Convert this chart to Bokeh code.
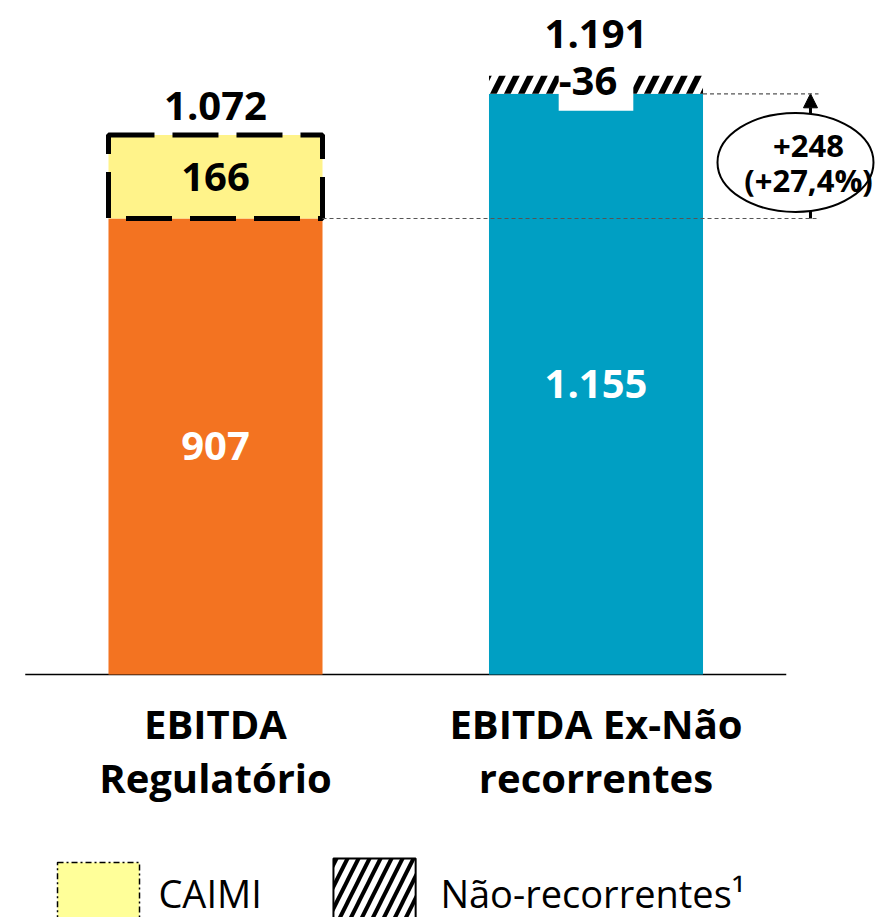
from bokeh.plotting import figure
from bokeh.models import Range1d, Arrow, NormalHead
from bokeh.core.properties import value
from bokeh.embed import file_html
from bokeh.resources import INLINE

# ---------------- data ----------------
categories = ["EBITDA\nRegulatório", "EBITDA Ex-Não\nrecorrentes"]
x_pos = [1, 2]
base_values = [907, 1155]          # orange / blue bars
caimi_value = 166                  # stacked on left bar
nonrec_value = 36                  # hatched, shown as -36 on right bar
totals = [1072, 1191]
delta_abs = 248
delta_pct = "+27,4%"
legend_labels = ["CAIMI", "Não-recorrentes¹"]


def fmt(v):
    return f"{v:,}".replace(",", ".")


# ---------------- style ----------------
ORANGE = "#F37321"
BLUE = "#009FC3"
YELLOW = "#FFF38A"
LEG_YELLOW = "#FFFF99"
FONT = value("Open Sans")
W = 0.5625

PX_X = 380.5       # pixels per x unit
PX_Y = 0.50276     # pixels per y unit
WIDTH, HEIGHT = 875, 917
x_start = 1 - 215 / PX_X
y_start = -(HEIGHT - 674) / PX_Y

p = figure(width=WIDTH, height=HEIGHT,
           x_range=Range1d(x_start, x_start + WIDTH / PX_X),
           y_range=Range1d(y_start, y_start + HEIGHT / PX_Y),
           x_axis_type=None, y_axis_type=None,
           output_backend="svg", toolbar_location=None, min_border=0)
p.grid.visible = False
p.outline_line_color = None
p.background_fill_color = "white"

# baseline
p.segment(x0=[x_pos[0] - 0.5], x1=[x_pos[-1] + 0.5], y0=[0], y1=[0],
          line_color="black", line_width=1.5)

# bars
p.vbar(x=[x_pos[0]], bottom=[0], top=[base_values[0]], width=W,
       fill_color=ORANGE, line_color=None)
p.vbar(x=[x_pos[1]], bottom=[0], top=[base_values[1]], width=W,
       fill_color=BLUE, line_color=None)
p.vbar(x=[x_pos[1]], bottom=[base_values[1]], top=[base_values[1] + nonrec_value],
       width=W, fill_color="white", line_color=None,
       hatch_pattern="/", hatch_color="black", hatch_weight=6, hatch_scale=28)
p.vbar(x=[x_pos[0]], bottom=[base_values[0]], top=[base_values[0] + caimi_value],
       width=W, fill_color=YELLOW, line_color="black", line_width=5,
       line_dash="46 18")

# reference dashed lines + arrow + ellipse
ANN_X = 2.5637
DASH_END = 2.5848
right_edges = [x_pos[0] + W / 2, x_pos[1] + W / 2]
p.segment(x0=right_edges, x1=[DASH_END, DASH_END],
          y0=[base_values[0], base_values[1]], y1=[base_values[0], base_values[1]],
          line_color="#555555", line_width=1.2, line_dash="4 3")

arrow = Arrow(end=NormalHead(size=14, fill_color="black", line_color="black"),
              x_start=ANN_X, y_start=base_values[0], x_end=ANN_X, y_end=base_values[1],
              line_width=3, line_color="black", level="underlay")
p.add_layout(arrow)

ann_y = base_values[0] + 0.45 * delta_abs
p.ellipse(x=[2.5243], y=[ann_y], width=156, height=99,
          width_units="screen", height_units="screen",
          fill_color="white", line_color="black", line_width=2)
p.text(x=[2.5585], y=[ann_y], text=[f"+{delta_abs}\n({delta_pct})"],
       text_font=FONT, text_font_style="bold", text_font_size="31px",
       text_align="center", text_baseline="middle", text_line_height=0.84,
       text_color="black")

# value labels
p.text(x=[x_pos[0]], y=[base_values[0] / 2], text=[fmt(base_values[0])],
       text_font=FONT, text_font_style="bold", text_font_size="40px",
       text_align="center", text_baseline="middle", text_color="white")
p.text(x=[x_pos[1]], y=[base_values[1] / 2], text=[fmt(base_values[1])],
       text_font=FONT, text_font_style="bold", text_font_size="40px",
       text_align="center", text_baseline="middle", text_color="white")
p.text(x=[x_pos[0]], y=[base_values[0] + caimi_value / 2], text=[fmt(caimi_value)],
       text_font=FONT, text_font_style="bold", text_font_size="40px",
       text_align="center", text_baseline="middle", text_color="black")
p.text(x=[x_pos[0]], y=[totals[0]], text=[fmt(totals[0])], y_offset=-30,
       text_font=FONT, text_font_style="bold", text_font_size="40px",
       text_align="center", text_baseline="middle", text_color="black")
p.text(x=[x_pos[1]], y=[base_values[1] + nonrec_value / 2], text=[f"-{nonrec_value}"],
       y_offset=2,
       text_font=FONT, text_font_style="bold", text_font_size="40px",
       text_align="center", text_baseline="middle", text_color="black",
       background_fill_color="white", padding=(0, 16, 4, 16))
p.text(x=[x_pos[1]], y=[totals[1]], text=[fmt(totals[1])], y_offset=-42,
       text_font=FONT, text_font_style="bold", text_font_size="40px",
       text_align="center", text_baseline="middle", text_color="black")

# category labels
p.text(x=x_pos, y=[0, 0], text=categories, y_offset=76,
       text_font=FONT, text_font_style="bold", text_font_size="40px",
       text_align="center", text_baseline="middle", text_line_height=0.98,
       text_color="black")

# legend
leg_top = [-374, -366]
p.quad(left=[0.5848], right=[0.8003], top=[leg_top[0]], bottom=[-520],
       fill_color=LEG_YELLOW, line_color="black", line_width=1.5, line_dash="6 3 2 3")
p.quad(left=[1.310], right=[1.526], top=[leg_top[1]], bottom=[-520],
       fill_color="white", line_color="black", line_width=2,
       hatch_pattern="/", hatch_color="black", hatch_weight=4, hatch_scale=22)
p.text(x=[0.850, 1.591], y=[0, 0], text=legend_labels, y_offset=218,
       text_font=FONT, text_font_size="38px",
       text_align="left", text_baseline="middle", text_color="black")

open("out.html", "w").write(file_html(p, INLINE))
